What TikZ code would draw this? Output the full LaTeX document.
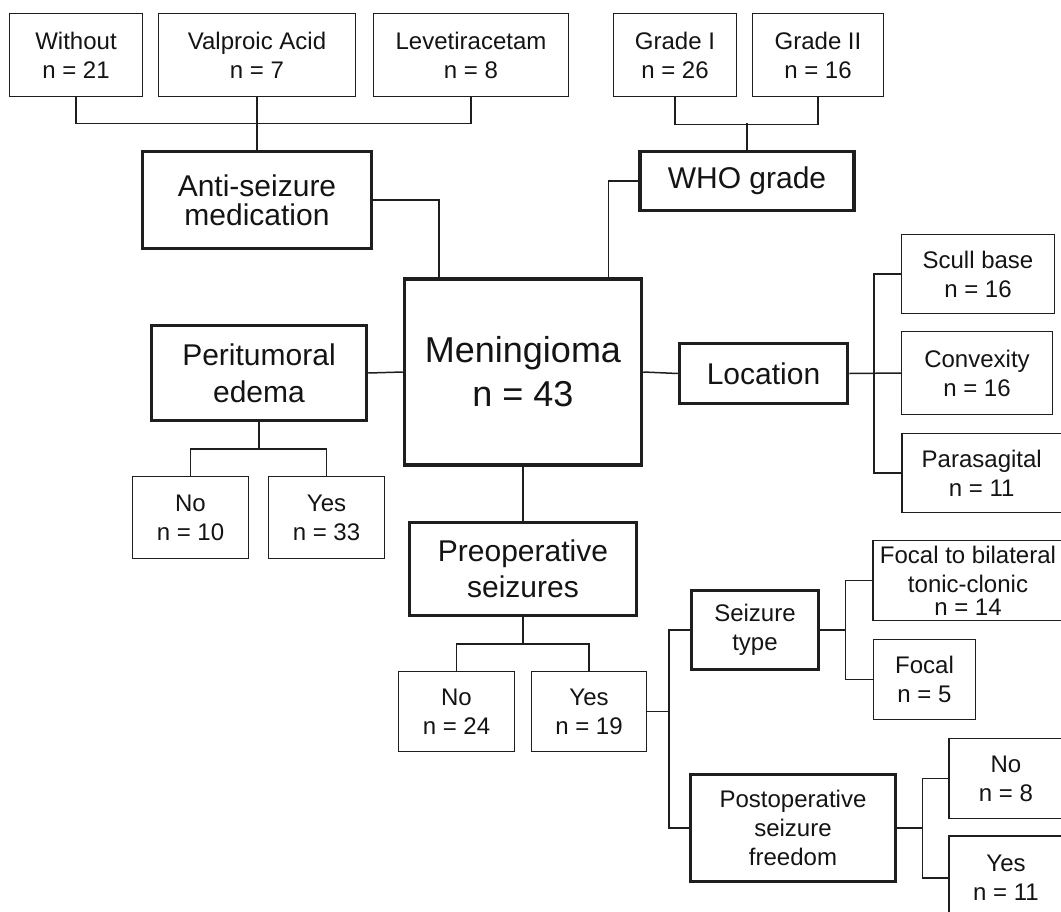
\documentclass[tikz,border=0pt]{standalone}
\usepackage{fontspec}
\setmainfont{Liberation Sans}
\usetikzlibrary{calc}
\definecolor{lc}{HTML}{1E1E1E}
\definecolor{tc}{HTML}{141414}
\begin{document}
\begin{tikzpicture}[x=1pt,y=-1pt,
  thinbox/.style={draw=lc, line width=1.5pt, inner sep=0pt, align=center, font=\fontsize{24}{29}\selectfont, text=tc},
  thickbox/.style={draw=lc, line width=3.5pt, inner sep=0pt, align=center, font=\fontsize{30}{37}\selectfont, text=tc},
  conn/.style={draw=lc, line width=1.5pt},
]
\useasboundingbox[fill=white] (0,0) rectangle (1061,911);

% top row
\node[thinbox, minimum width=133pt, minimum height=83pt] (without) at (76,55) {Without\\n = 21};
\node[thinbox, minimum width=197pt, minimum height=83pt] (valproic) at (257,55) {Valproic Acid\\n = 7};
\node[thinbox, minimum width=195pt, minimum height=83pt] (leve) at (471,55) {Levetiracetam\\n = 8};
\node[thinbox, minimum width=123pt, minimum height=83pt] (grade1) at (675,55) {Grade I\\n = 26};
\node[thinbox, minimum width=131pt, minimum height=83pt] (grade2) at (818,55) {Grade II\\n = 16};

\node[thickbox, minimum width=229pt, minimum height=97pt, font=\fontsize{30}{29}\selectfont] (asm) at (257,200) {Anti-seizure\\medication};
\node[thickbox, minimum width=214pt, minimum height=59pt] (who) at (747,181) {WHO grade};

\node[thickbox, minimum width=237pt, minimum height=186pt, font=\fontsize{36}{44}\selectfont] (mening) at (523,372) {Meningioma\\n = 43};

\node[thickbox, minimum width=215pt, minimum height=95pt] (perit) at (259,373) {Peritumoral\\edema};
\node[thinbox, minimum width=116pt, minimum height=82pt] (pno) at (190.5,517.5) {No\\n = 10};
\node[thinbox, minimum width=116pt, minimum height=82pt] (pyes) at (326.5,517.5) {Yes\\n = 33};

\node[thickbox, minimum width=168pt, minimum height=60pt] (loc) at (763.5,373.5) {Location};
\node[thinbox, minimum width=153pt, minimum height=79pt] (scull) at (978,274) {Scull base\\n = 16};
\node[thinbox, minimum width=151pt, minimum height=83pt] (convex) at (977,373) {Convexity\\n = 16};
\node[thinbox, minimum width=160pt, minimum height=79pt] (para) at (981.75,473) {Parasagital\\n = 11};

\node[thickbox, minimum width=227pt, minimum height=93pt, font=\fontsize{30}{36}\selectfont] (preop) at (523,569) {Preoperative\\seizures};
\node[thinbox, minimum width=116pt, minimum height=80pt] (sno) at (456.5,711.5) {No\\n = 24};
\node[thinbox, minimum width=115pt, minimum height=80pt] (syes) at (589,711.5) {Yes\\n = 19};

\node[thickbox, minimum width=127pt, minimum height=79pt, font=\fontsize{24}{29}\selectfont] (stype) at (755,630) {Seizure\\type};
\node[thinbox, minimum width=190pt, minimum height=80pt] (ftb) at (968,580.5) {Focal to bilateral\\tonic-clonic\\[-6pt]n = 14};
\node[thinbox, minimum width=102pt, minimum height=80pt] (focal) at (924.5,679.5) {Focal\\n = 5};

\node[thickbox, minimum width=205pt, minimum height=107pt, font=\fontsize{24}{29}\selectfont] (postop) at (793,828) {Postoperative\\seizure\\freedom};
\node[thinbox, minimum width=114pt, minimum height=80pt] (pono) at (1006,778.5) {No\\n = 8};
\node[thinbox, minimum width=114pt, minimum height=84pt] (poyes) at (1006,878) {Yes\\n = 11};

% connectors
\draw[conn] (without.south) -- ++(0,26) -| (leve.south);
\draw[conn] (valproic.south) -- (asm.north);
\draw[conn] (grade1.south) -- ++(0,27) -| (grade2.south);
\draw[conn] (who.north) -- ++(0,-27);
\draw[conn] (asm.east) -| ([xshift=36pt]mening.north west);
\draw[conn] (who.west) -| ([xshift=-35pt]mening.north east);
\draw[conn] (perit.east) -- (mening.west);
\draw[conn] (perit.south) -- ++(0,27);
\draw[conn] (pno.north) -- ++(0,-27) -| (pyes.north);
\draw[conn] (mening.east) -- (loc.west);
\draw[conn] (loc.east) -- (convex.west);
\draw[conn] (scull.west) -- ++(-27,0) |- (para.west);
\draw[conn] (mening.south) -- (preop.north);
\draw[conn] (preop.south) -- ++(0,27);
\draw[conn] (sno.north) -- ++(0,-27) -| (syes.north);
\draw[conn] (stype.west) -- ++(-21,0) coordinate (v1) |- (postop.west);
\draw[conn] (syes.east) -- (syes.east -| v1);
\draw[conn] (stype.east) -- ++(26,0);
\draw[conn] (ftb.west) -- ++(-27,0) |- (focal.west);
\draw[conn] (postop.east) -- ++(26,0);
\draw[conn] (pono.west) -- ++(-26,0) |- (poyes.west);
\end{tikzpicture}
\end{document}
